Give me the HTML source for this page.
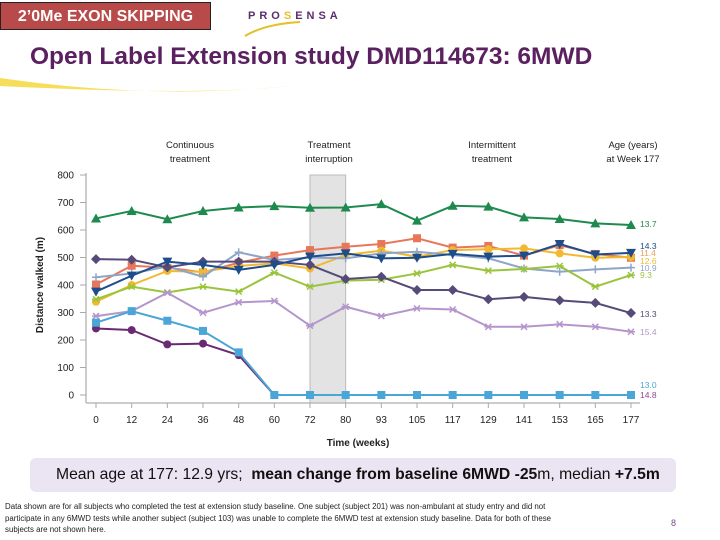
<!DOCTYPE html>
<html><head><meta charset="utf-8">
<style>
body{margin:0;width:720px;height:540px;overflow:hidden;background:#fff;font-family:"Liberation Sans",sans-serif;position:relative}
.abs{position:absolute}
</style></head>
<body>
<div class="abs" style="left:0;top:2px;width:211px;height:28px;background:#b84a4a;border:1px solid #222;color:#fff;font-weight:bold;font-size:16px;line-height:28px;text-align:center;box-sizing:border-box">2’0Me EXON SKIPPING</div>
<div class="abs" style="left:248px;top:10px;font-size:11px;letter-spacing:4px;font-weight:bold;color:#5b2d6b">PRO<span style="color:#e6c02a">S</span>ENSA</div>
<svg class="abs" style="left:0;top:0" width="720" height="120">
<path d="M0,78 Q150,100 290,86 Q200,96 0,86 Z" fill="#f2d630" opacity="0.8"/>
<path d="M245,36 Q265,24 300,22" stroke="#e6c02a" stroke-width="2" fill="none"/>
</svg>
<div class="abs" style="left:30px;top:43px;font-size:24.5px;font-weight:bold;color:#5b2060;white-space:nowrap">Open Label Extension study DMD114673: 6MWD</div>

<svg class="abs" style="left:0;top:130px" width="720" height="325" id="chart"></svg>

<div class="abs" style="left:30px;top:458px;width:646px;height:34px;background:#ebe4f3;border-radius:6px;font-size:15.7px;line-height:34px;color:#111;padding-left:26px;box-sizing:border-box;white-space:nowrap">Mean age at 177: 12.9 yrs;&nbsp; <b>mean change from baseline 6MWD -25</b>m, median <b>+7.5m</b></div>
<div class="abs" style="left:5px;top:501px;width:575px;font-size:7.9px;line-height:11.5px;color:#222">Data shown are for all subjects who completed the test at extension study baseline. One subject (subject 201) was non-ambulant at study entry and did not participate in any 6MWD tests while another subject (subject 103) was unable to complete the 6MWD test at extension study baseline. Data for both of these subjects are not shown here.</div>
<div class="abs" style="left:671px;top:518px;font-size:9px;color:#7a4b8a">8</div>

<script>
const weeks=["0","12","24","36","48","60","72","80","93","105","117","129","141","153","165","177"];
const yTicks=[0,100,200,300,400,500,600,700,800];
const green=[642,669,639,669,682,687,681,682,694,634,688,685,646,640,624,618];
const navy=[376,434,485,473,455,473,503,515,497,499,513,503,507,549,511,517];
const orange=[402,470,463,446,481,507,527,539,549,570,536,542,507,545,513,499];
const yellow=[339,400,451,448,469,479,460,509,525,503,527,530,533,515,499,502];
const steel=[428,442,467,430,519,491,500,497,515,521,509,497,460,448,457,463];
const lime=[348,394,373,394,376,445,394,416,419,442,473,452,458,469,394,436];
const darkgray=[494,492,464,485,485,485,473,422,430,382,382,348,357,344,335,298];
const lavender=[287,305,372,299,337,342,252,321,287,315,311,248,248,257,248,230];
const lightblue=[263,305,270,233,155,0,0,0,0,0,0,0,0,0,0,0];
const purple=[242,236,184,187,145,0,0,0,0,0,0,0,0,0,0,0];
const ages=["13.7","14.3","11.4","12.6","10.9","9.3","13.3","15.4","13.0","14.8"];
const ageY=[224,246,253,261,268,275,314,332,385,395];

const series=[
 {name:"green",d:green,c:"#1e8a4e",m:"tri"},
 {name:"orange",d:orange,c:"#e8775a",m:"sq"},
 {name:"yellow",d:yellow,c:"#f3b92e",m:"circ"},
 {name:"steel",d:steel,c:"#8ea5c8",m:"plus"},
 {name:"lime",d:lime,c:"#9ac43c",m:"ast"},
 {name:"darkgray",d:darkgray,c:"#564a78",m:"dia"},
 {name:"lavender",d:lavender,c:"#b496cc",m:"star"},
 {name:"navy",d:navy,c:"#1d4d8a",m:"itri"},
 {name:"purple",d:purple,c:"#6a2a72",m:"circ"},
 {name:"lightblue",d:lightblue,c:"#4aa6d6",m:"sq2"}
];
const ageColors=["#1e8a4e","#1d4d8a","#e8a05a","#f3b92e","#8ea5c8","#9ac43c","#564a78","#b496cc","#4aa6d6","#8a4a92"];
const OY=130;
const x=i=>96+i*(631-96)/(weeks.length-1);
const y=v=>395-OY-v*(220/800);
const svg=document.getElementById('chart');
const NS="http://www.w3.org/2000/svg";
function mk(t,a,p){const e=document.createElementNS(NS,t);for(const k in a)e.setAttribute(k,a[k]);(p||svg).appendChild(e);return e;}

let band=mk('rect',{x:x(6),y:y(800),width:x(7)-x(6),height:y(0)-y(800)+8,fill:'#e3e3e3',stroke:'#bbb'});



let ya=mk('line',{x1:86,x2:86,y1:y(800)-2,y2:y(0)+8,stroke:'#bbb','stroke-width':1.5});


let xa=mk('line',{x1:86,x2:640,y1:y(0)+8,y2:y(0)+8,stroke:'#bbb','stroke-width':1.5});


yTicks.forEach(v=>{
 mk('line',{x1:80,x2:86,y1:y(v),y2:y(v),stroke:'#aaa'});
 let t=mk('text',{x:74,y:y(v)+3.5,'text-anchor':'end','font-size':10,fill:'#222'});
 t.textContent=v;
 
 
});
weeks.forEach((w,i)=>{
 mk('line',{x1:x(i),x2:x(i),y1:y(0)+8,y2:y(0)+13,stroke:'#aaa'});
 let t=mk('text',{x:x(i),y:y(0)+28,'text-anchor':'middle','font-size':10,fill:'#222'});
 t.textContent=w;
 
 
});
let xt=mk('text',{x:358,y:443-OY+3,'text-anchor':'middle','font-size':10,'font-weight':'bold',fill:'#222'});
xt.textContent='Time (weeks)';


let yt=mk('text',{x:0,y:0,'text-anchor':'middle','font-size':10,'font-weight':'bold',fill:'#222',transform:`translate(43,${285-OY}) rotate(-90)`});
yt.textContent='Distance walked (m)';



[["Continuous","treatment",190],["Treatment","interruption",329],["Intermittent","treatment",492],["Age (years)","at Week 177",633]].forEach(h=>{
 let g=mk('text',{x:h[2],y:148-OY,'text-anchor':'middle','font-size':9.5,fill:'#222'});
 g.textContent=h[0];
 
 
 let g2=mk('text',{x:h[2],y:162-OY,'text-anchor':'middle','font-size':9.5,fill:'#222'});
 g2.textContent=h[1];
 
 
});

function marker(m,cx,cy,c,g){
 const s=4;
 if(m==='tri')mk('polygon',{points:`${cx},${cy-s-1} ${cx-s-1},${cy+s} ${cx+s+1},${cy+s}`,fill:c},g);
 else if(m==='itri')mk('polygon',{points:`${cx},${cy+s+1} ${cx-s-1},${cy-s} ${cx+s+1},${cy-s}`,fill:c},g);
 else if(m==='sq'||m==='sq2')mk('rect',{x:cx-s,y:cy-s,width:2*s,height:2*s,fill:c},g);
 else if(m==='circ')mk('circle',{cx,cy,r:s,fill:c},g);
 else if(m==='dia')mk('polygon',{points:`${cx},${cy-s-1} ${cx+s+1},${cy} ${cx},${cy+s+1} ${cx-s-1},${cy}`,fill:c},g);
 else if(m==='plus')mk('path',{d:`M${cx-s},${cy}H${cx+s}M${cx},${cy-s}V${cy+s}`,stroke:c,'stroke-width':1.5},g);
 else mk('path',{d:`M${cx-s},${cy}H${cx+s}M${cx-s+1},${cy-s+1}L${cx+s-1},${cy+s-1}M${cx-s+1},${cy+s-1}L${cx+s-1},${cy-s+1}`,stroke:c,'stroke-width':1.5},g);
}
series.forEach(s=>{
 const g=mk('g',{});
 
 
 mk('polyline',{points:s.d.map((v,i)=>x(i)+','+y(v)).join(' '),fill:'none',stroke:s.c,'stroke-width':2},g);
 s.d.forEach((v,i)=>marker(s.m,x(i),y(v),s.c,g));
});
ages.forEach((a,i)=>{
 let t=mk('text',{x:640,y:ageY[i]-OY+3,'font-size':8.5,fill:ageColors[i]});
 t.textContent=a;
 
 
});
</script>
</body></html>
